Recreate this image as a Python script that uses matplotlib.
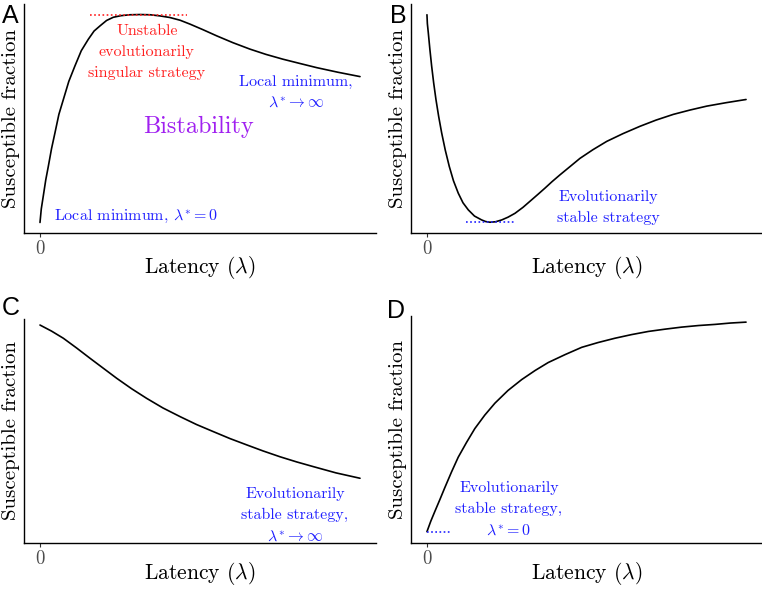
import matplotlib
matplotlib.use("Agg")
import matplotlib.pyplot as plt

plt.rcParams['font.family'] = 'cmr10'
plt.rcParams['mathtext.fontset'] = 'cm'
plt.rcParams['axes.formatter.use_mathtext'] = True

W, H = 762, 589

# values (latency scaled to 0..10, fraction 0..1)
lat_a = [0, 0.04, 0.10, 0.18, 0.26, 0.36, 0.47, 0.59, 0.73, 0.90, 1.09, 1.29,
         1.51, 1.69, 1.88, 2.08, 2.29, 2.53, 2.81, 3.13, 3.44, 3.75, 4.06, 4.38,
         4.69, 5.09, 5.52, 6.03, 6.56, 7.06, 7.59, 8.13, 8.65, 9.31, 10.0]
sus_a = [0.046, 0.105, 0.159, 0.232, 0.291, 0.368, 0.439, 0.518, 0.583, 0.662,
         0.729, 0.796, 0.846, 0.882, 0.905, 0.928, 0.942, 0.949, 0.953, 0.954,
         0.953, 0.948, 0.941, 0.929, 0.912, 0.888, 0.861, 0.831, 0.803, 0.780,
         0.759, 0.740, 0.722, 0.702, 0.683]

lat_b = [0, 0.013, 0.041, 0.091, 0.147, 0.210, 0.282, 0.367, 0.461, 0.574,
         0.699, 0.831, 0.981, 1.129, 1.295, 1.489, 1.715, 1.840, 1.975, 2.147,
         2.342, 2.539, 2.759, 3.009, 3.282, 3.480, 3.699, 3.918, 4.169, 4.483,
         4.796, 5.204, 5.633, 6.144, 6.677, 7.179, 7.721, 8.245, 8.768, 9.373,
         10.0]
sus_b = [0.953, 0.914, 0.876, 0.803, 0.729, 0.656, 0.583, 0.509, 0.437, 0.362,
         0.291, 0.228, 0.174, 0.132, 0.101, 0.074, 0.057, 0.050, 0.047, 0.049,
         0.057, 0.069, 0.086, 0.112, 0.145, 0.169, 0.196, 0.224, 0.254, 0.290,
         0.326, 0.364, 0.400, 0.434, 0.466, 0.493, 0.518, 0.537, 0.554, 0.569,
         0.583]

lat_c = [0, 0.36, 0.73, 1.14, 1.56, 1.98, 2.40, 2.86, 3.33, 3.84, 4.38, 4.89,
         5.42, 5.94, 6.46, 6.97, 7.5, 8.02, 8.54, 9.25, 10.0]
sus_c = [0.973, 0.946, 0.914, 0.871, 0.825, 0.780, 0.735, 0.689, 0.646, 0.603,
         0.564, 0.529, 0.497, 0.466, 0.438, 0.411, 0.385, 0.362, 0.341, 0.313,
         0.289]

lat_d = [0, 0.12, 0.25, 0.41, 0.56, 0.77, 0.98, 1.24, 1.50, 1.81, 2.13, 2.54,
         2.97, 3.39, 3.80, 4.33, 4.85, 5.36, 5.89, 6.41, 6.94, 7.46, 7.98, 8.51,
         9.03, 9.51, 10.0]
sus_d = [0.050, 0.096, 0.140, 0.193, 0.244, 0.313, 0.378, 0.443, 0.504, 0.563,
         0.616, 0.672, 0.720, 0.760, 0.795, 0.830, 0.862, 0.883, 0.902, 0.918,
         0.932, 0.942, 0.951, 0.958, 0.963, 0.969, 0.973]

fig = plt.figure(figsize=(W / 100, H / 100), dpi=100)


def make_axes(left, top, right, bottom, xpad=-3):
    ax = fig.add_axes([left / W, (H - bottom) / H, (right - left) / W, (bottom - top) / H])
    ax.set_xlim(-0.5, 10.5)
    ax.set_ylim(0, 1)
    for s in ['top', 'right']:
        ax.spines[s].set_visible(False)
    for s in ['left', 'bottom']:
        ax.spines[s].set_linewidth(1.0)
    ax.set_xticks([0])
    ax.set_xticklabels(['0'], fontsize=13.5, color='#4d4d4d')
    ax.tick_params(axis='x', length=3, width=0.8, color='#333333', pad=2)
    ax.set_yticks([])
    ax.set_xlabel(r'Latency ($\lambda$)', fontsize=15.5, labelpad=xpad)
    ax.set_ylabel('Susceptible fraction', fontsize=15, labelpad=3)
    return ax


ax_a = make_axes(24, 4, 376, 233)
ax_b = make_axes(411, 4, 762, 233)
ax_c = make_axes(24, 319, 376, 543, xpad=-5.5)
ax_d = make_axes(411, 316, 762, 543, xpad=-5.5)

red = '#ff2020'
blue = '#2020ff'
lkw = dict(color='black', lw=1.2, solid_joinstyle='round', solid_capstyle='round')
tkw = dict(ha='center', va='center', fontsize=11.5, linespacing=1.6)
dot = (0, (1, 1.5))

# A
ax_a.plot(lat_a, sus_a, **lkw)
ax_a.plot([1.56, 4.59], [0.953, 0.953], color=red, lw=1.2, ls=dot)
ax_a.text(3.34, 0.79, 'Unstable\nevolutionarily\nsingular strategy', color=red, **tkw)
ax_a.text(8.0, 0.612, 'Local minimum,\n' + r'$\lambda^{*}\rightarrow\infty$', color=blue, **tkw)
ax_a.text(4.94, 0.465, 'Bistability', color='#a020f0', ha='center', va='center', fontsize=17.5)
ax_a.text(3.0, 0.072, r'Local minimum, $\lambda^{*}=0$', color=blue, **tkw)

# B
ax_b.plot(lat_b, sus_b, **lkw)
ax_b.plot([1.22, 2.73], [0.047, 0.047], color=blue, lw=1.2, ls=dot)
ax_b.text(5.67, 0.112, 'Evolutionarily\nstable strategy', color=blue, **tkw)

# C
ax_c.plot(lat_c, sus_c, **lkw)
ax_c.text(7.97, 0.12, 'Evolutionarily\nstable strategy,\n' + r'$\lambda^{*}\rightarrow\infty$',
          color=blue, **tkw)

# D
ax_d.plot(lat_d, sus_d, **lkw)
ax_d.plot([0, 0.72], [0.049, 0.049], color=blue, lw=1.2, ls=dot)
ax_d.text(2.57, 0.147, 'Evolutionarily\nstable strategy,\n' + r'$\lambda^{*}=0$',
          color=blue, **tkw)

# panel letters
for lab, px, py in [('A', 2, 4), ('B', 390, 4), ('C', 2, 296), ('D', 387, 299)]:
    fig.text(px / W, 1 - py / H, lab, fontsize=18, family='Liberation Sans',
             ha='left', va='top')

fig.savefig('out.png', dpi=100)
